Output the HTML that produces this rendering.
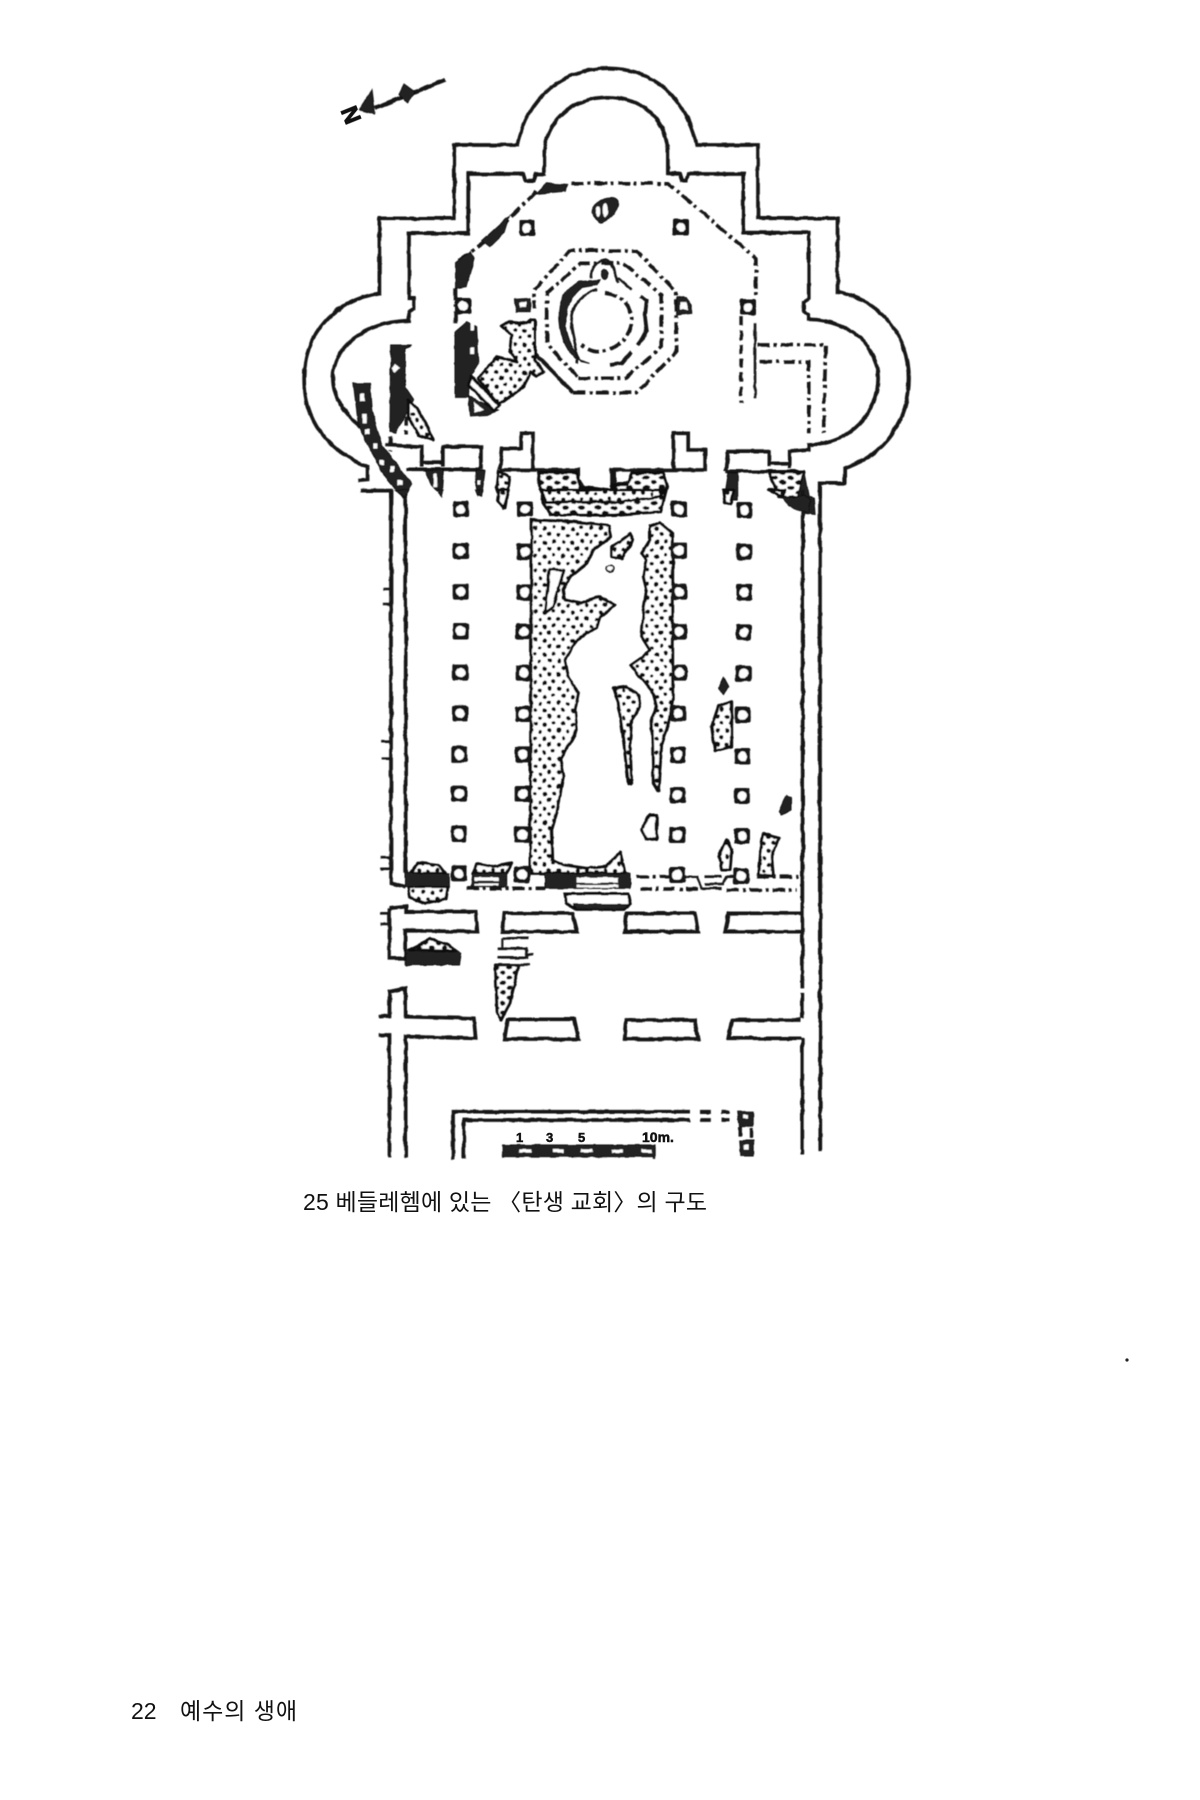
<!DOCTYPE html>
<html><head><meta charset="utf-8"><style>
html,body{margin:0;padding:0;background:#fff}
svg{display:block}
.w,.w *{fill:none;stroke:#131313;stroke-width:3.7;stroke-linejoin:miter;vector-effect:non-scaling-stroke}
.t,.t *{fill:none;stroke:#131313;stroke-width:2.6;vector-effect:non-scaling-stroke}
.dd,.dd *{fill:none;stroke:#131313;stroke-width:3.6;stroke-dasharray:12 4 3 4;vector-effect:non-scaling-stroke}
.ds,.ds *{fill:none;stroke:#131313;stroke-width:3.4;stroke-dasharray:9 5;vector-effect:non-scaling-stroke}
.k,.k *{fill:#232323;stroke:#111;stroke-width:1;vector-effect:non-scaling-stroke}
.s,.s *{stroke:#111;stroke-width:3;vector-effect:non-scaling-stroke;stroke-linejoin:round}
.wh,.wh *{fill:#fff;stroke:none}
.whb,.whb *{fill:#fff;stroke:#111;stroke-width:3;vector-effect:non-scaling-stroke}
text{font-family:"Liberation Sans","Noto Sans CJK KR",sans-serif;fill:#111}
</style></head><body>
<svg width="1200" height="1800" viewBox="0 0 1200 1800" xmlns="http://www.w3.org/2000/svg">
<defs>
<filter id="rough" filterUnits="userSpaceOnUse" x="280" y="50" width="660" height="1130">
  <feTurbulence type="fractalNoise" baseFrequency=".09" numOctaves="2" seed="4" result="n"/>
  <feDisplacementMap in="SourceGraphic" in2="n" scale="3" xChannelSelector="R" yChannelSelector="G"/>
  <feGaussianBlur stdDeviation=".45"/>
</filter>
<pattern id="d2" width="84" height="84" patternUnits="userSpaceOnUse"><rect width="84" height="84" fill="#fff"/><g fill="#111"><circle cx="9" cy="8" r="6.5"/><circle cx="36" cy="12" r="5.5"/><circle cx="64" cy="6" r="7"/><circle cx="22" cy="29" r="6.5"/><circle cx="50" cy="32" r="7"/><circle cx="76" cy="26" r="5.5"/><circle cx="8" cy="50" r="7"/><circle cx="36" cy="53" r="5.5"/><circle cx="64" cy="49" r="6.5"/><circle cx="22" cy="72" r="5.5"/><circle cx="50" cy="74" r="7"/><circle cx="77" cy="70" r="6.5"/></g></pattern>
<pattern id="d1" width="38" height="30" patternUnits="userSpaceOnUse"><rect width="38" height="30" fill="#fff"/><ellipse cx="10" cy="8" rx="8" ry="6.5" fill="#111"/><ellipse cx="29" cy="23" rx="8" ry="6.5" fill="#111"/></pattern>
<pattern id="d3" width="36" height="30" patternUnits="userSpaceOnUse"><rect width="36" height="30" fill="#fff"/><ellipse cx="9" cy="8" rx="8" ry="6.5" fill="#111"/><ellipse cx="27" cy="23" rx="8" ry="6.5" fill="#111"/></pattern>
<g id="c"><rect x="-8" y="-8" width="16" height="16" rx="2" fill="#151515"/><circle r="4.8" fill="#fff"/></g>
</defs>

<g filter="url(#rough)">
<!-- top part -->
<g transform="translate(280,50) scale(.423,.3333)">
  <path class="w" d="M185,1292 L207,1290 L207,1250 C110,1200 57,1110 57,985 C57,850 130,750 235,730 L235,505 L412,505 L412,285 L562,285 C585,140 670,55 775,55 C880,55 960,140 985,285 L1130,285 L1130,505 L1318,505 L1318,725 C1425,755 1487,860 1487,985 C1487,1110 1430,1215 1335,1255 L1335,1300 L1277,1300 L1277,1345"/>
  <path class="w" d="M190,1322 L262,1322 L262,1345"/>
  <path class="w" d="M190,1130 C150,1090 125,1040 125,985 C125,890 200,815 305,812 L305,785 L318,775 L318,745 L305,745 L305,550 L445,550 L445,372 L575,372 L580,392 L600,392 L605,372 L625,372 L625,300 C635,200 700,142 775,142 C850,142 910,200 917,300 L917,370 L945,372 L950,392 L960,392 L965,372 L1095,372 L1095,548 L1250,548 L1250,745 L1238,755 L1238,785 L1250,795 L1250,808 C1350,810 1414,890 1414,985 C1414,1090 1350,1180 1250,1185 L1250,1200 L1205,1205 L1205,1255"/>
  <path class="w" d="M250,1185 L335,1190 L335,1250 M385,1250 L385,1190 L475,1190 L475,1258 M300,1258 L475,1258 M335,1238 L385,1238"/>
  <path class="w" d="M520,1258 L525,1195 L570,1195 L570,1150 L598,1150 L598,1258 M520,1260 L705,1260 L705,1290 L725,1322 L785,1322 L785,1260 L1005,1260 L1005,1200 L965,1200 L965,1150 L930,1150 L930,1258 M790,1265 L790,1300 L820,1300"/>
  <path class="w" d="M1055,1262 L1060,1205 L1157,1205 L1157,1250 M1157,1240 L1205,1240 M1055,1264 L1236,1264 L1236,1345"/>

  <!-- dash-dot -->
  <path class="dd" d="M690,400 L918,400 L1125,625 L1125,740"/>
  <path class="dd" d="M605,425 L500,560 L415,640 M415,715 L415,830"/>
  <path class="dd" d="M1130,885 L1290,885 L1285,1150 M1135,935 L1250,935 L1250,1150"/>
  <path class="ds" d="M1090,800 L1090,1060"/>
  <path class="t" d="M1123,820 L1123,1045"/>

  <!-- black fragments -->
  <g class="k">
    <path d="M605,432 L630,400 L680,405 L672,424 Z"/>
    <path d="M478,572 L542,498 L530,548 L496,590 Z"/>
    <path d="M415,640 L450,605 L460,625 L440,710 L415,715 Z"/>
    <path d="M738,490 C735,450 790,430 798,455 C800,490 770,520 755,518 Z"/>
    <path d="M1060,1268 L1082,1268 L1082,1350 L1050,1350 Z"/>
  </g>
  <g class="wh"><ellipse cx="770" cy="480" rx="6" ry="22"/><ellipse cx="752" cy="485" rx="5" ry="16"/></g>
  <g class="s">
    <path fill="url(#d1)" d="M610,1268 L700,1268 L710,1310 L785,1322 L785,1304 L822,1304 L832,1268 L905,1268 L915,1310 L900,1385 L790,1395 L640,1395 L620,1350 Z"/>
    <path fill="url(#d1)" d="M1155,1265 L1240,1265 L1225,1345 L1180,1340 Z"/>
  </g>
  <g class="k"><path d="M1225,1340 L1240,1265 L1250,1340 L1262,1345 L1265,1395 L1240,1392 Z"/></g>
</g>

<!-- octagon at true 3x zoom -->
<g transform="translate(510,230) scale(.33333)">
  <path class="dd" d="M190,488 L380,488 L500,365 L497,185 L380,62 L180,62 L72,180 L72,235"/>
  <path class="w" d="M65,360 L190,488"/>
  <path class="dd" d="M205,445 L345,445 L455,350 L455,195 L340,100 L210,100 L110,190 L110,340 L205,445"/>
  <path class="k" d="M205,155 L270,150 L262,165 L215,172 C180,200 165,240 168,290 C172,330 190,360 215,395 L240,400 L195,385 C160,350 145,300 148,240 C150,200 175,175 205,155 Z"/>
  <path class="t" d="M262,180 C205,195 180,240 185,290 C190,330 205,365 200,400"/>
  <path class="dd" d="M285,188 C345,195 370,240 365,285 C355,330 310,365 265,365 C245,365 230,358 215,345"/>
  <path class="t" d="M245,145 C240,110 265,90 290,90 C305,95 315,130 325,160"/>
  <ellipse class="k" cx="283" cy="133" rx="10" ry="15"/>
  <path class="t" d="M325,145 L365,180"/>
  <path class="w" d="M390,200 L410,210 L405,260 L410,300 L400,320 L385,345"/>
  <path class="w" d="M300,405 L335,400 L365,365"/>
  <path class="k" d="M15,208 L60,205 L62,245 L18,245 Z M500,200 L530,205 L545,225 L545,250 L500,255 Z"/>
  <path fill="#fff" d="M28,218 h20 v14 h-20z M510,218 h18 l6,10 v12 h-24z"/>
</g>

<!-- left side fragments at true 3x zoom -->
<g transform="translate(340,320) scale(.33333)">
  <path class="k" d="M152,75 L215,75 L195,85 L195,200 L222,240 L200,280 L165,340 L150,335 Z"/>
  <path class="wh" d="M165,130 L180,145 L165,160 L155,145 Z"/>
  <path class="s" fill="url(#d2)" d="M205,240 L230,265 L262,320 L278,360 L235,345 L205,290 Z"/>
  <path class="ds" d="M200,290 L200,345 M150,350 L150,395"/>
  <path class="k" d="M40,190 L90,190 L95,270 L125,375 L215,490 L190,535 L135,470 L85,380 L55,310 Z"/>
  <path class="wh" d="M60,220 h14 v24 h-14z M68,280 h12 v30 h-12z M75,325 h12 v18 h-12z M100,370 h12 v14 h-12z M120,420 h12 v14 h-12z M150,440 h12 v18 h-12z M172,480 h16 v16 h-16z"/>
  <path class="k" d="M345,35 L380,5 L410,20 L415,130 L390,170 L385,232 L345,232 Z"/>
  <path class="wh" d="M392,8 h10 v22 h-10z M392,82 h12 v20 h-12z"/>
  <path class="k" d="M385,230 L475,270 L440,285 L390,288 Z"/>
  <path class="s" fill="url(#d2)" d="M485,20 L510,5 L560,10 L575,0 L585,0 L585,120 L610,155 L590,170 L570,155 L550,200 L490,245 L475,250 L415,175 L470,110 L530,125 L510,90 L515,45 Z"/>
  <path class="whb" d="M395,170 L478,255 L462,272 L385,195 Z"/>
  <path fill="#fff" d="M400,245 L432,268 L405,278 Z"/>
  <path class="k" d="M255,450 L310,450 L305,530 L270,490 Z M408,450 L435,450 L425,530 L410,525 Z"/>
  <path class="wh" d="M280,460 h10 v40 h-10z M414,480 h8 v14 h-8z"/>
  <path class="s" fill="url(#d2)" d="M475,452 L508,470 L495,565 L470,500 Z"/>
</g>

<!-- north arrow -->
<path class="w" d="M445,80 L375,108" style="stroke-width:4.2"/>
<path class="k" d="M359,110 L372,90 L375,114 Z M404,84 L415,92 L407,103 L399,94 Z"/>

<use href="#c" x="527" y="228"/><use href="#c" x="681" y="227"/><use href="#c" x="463" y="306"/><use href="#c" x="748" y="307"/>

<!-- middle part -->
<g transform="translate(360,490) scale(.33333)">
  <path class="w" d="M93,0 L93,1180 L135,1190 M137,0 L137,1150 M1328,0 L1328,1110 M1380,0 L1380,1140"/>
  <path class="t" d="M70,297 H93 M70,342 H93 M65,755 H90 M62,806 H90 M62,1103 H90 M62,1135 H90"/>
  <g class="k">
    <path d="M105,0 L145,0 L135,22 Z M228,0 L250,0 L245,20 Z M345,0 L360,0 L352,18 Z"/>
    <path d="M1270,20 L1300,25 L1335,15 L1352,30 L1345,68 L1320,62 L1285,50 Z"/>
  </g>
  <g class="s">
    <path fill="url(#d2)" d="M418,0 L445,0 L430,55 L414,35 Z"/>
    <path fill="url(#d2)" d="M1090,0 L1120,0 L1112,40 L1095,40 Z"/>
    <path fill="url(#d2)" d="M1225,0 L1275,0 L1270,20 Z"/>
    <path fill="url(#d2)" d="M540,0 L915,0 L900,20 L790,35 L560,36 Z"/>
    <path fill="url(#d2)" d="M515,90 L640,95 L745,108 L752,140 L700,180 L680,220 L630,260 L610,300 L615,330 L660,340 L720,320 L765,345 L720,380 L710,410 L650,450 L615,510 L625,560 L655,610 L645,660 L650,720 L600,810 L610,860 L590,970 L575,1020 L578,1110 L610,1125 L680,1135 L740,1130 L780,1085 L795,1150 L510,1150 Z"/>
    <path fill="#fff" d="M568,238 L612,240 L580,350 L555,368 Z"/>
    <path fill="url(#d2)" d="M870,110 L900,98 L938,130 L938,630 L925,700 L905,760 L895,905 L880,880 L878,760 L875,690 L890,650 L880,610 L840,560 L812,525 L855,495 L870,480 L845,440 L850,360 L860,300 L850,260 L860,210 L845,190 L870,150 Z"/>
    <path fill="url(#d2)" d="M760,595 L800,590 L835,615 L840,650 L815,690 L810,760 L815,882 L805,880 L790,745 L775,640 Z"/>
    <path fill="url(#d2)" d="M755,170 L810,130 L820,150 L785,205 L755,200 Z"/>
    <path fill="url(#d2)" d="M1055,710 L1075,650 L1115,635 L1115,770 L1065,782 Z"/>
    <path fill="#fff" d="M842,1020 L870,975 L890,975 L890,1050 L860,1045 Z"/>
    <path fill="url(#d2)" d="M1100,1048 L1115,1080 L1110,1140 L1085,1140 L1078,1100 Z"/>
    <path fill="url(#d2)" d="M1210,1030 L1255,1045 L1235,1100 L1240,1160 L1195,1155 L1200,1090 Z"/>
    <path fill="url(#d2)" d="M150,1150 L175,1118 L235,1125 L255,1150 Z"/>
    <path fill="url(#d2)" d="M145,1190 L265,1190 L260,1225 L195,1240 L150,1222 Z"/>
    <path fill="url(#d2)" d="M340,1150 L350,1120 L400,1130 L455,1120 L440,1150 Z"/>
  </g>
  <circle cx="750" cy="236" r="10" fill="#fff" stroke="#111" stroke-width="5"/>
  <path class="k" d="M1090,562 L1105,590 L1092,612 L1076,595 Z"/>
  <path class="k" d="M1280,915 L1293,920 L1293,960 L1265,975 L1258,965 Z"/>
  <path class="k" d="M135,1150 H268 V1190 H135 Z"/>
  <path class="k" d="M340,1150 H440 V1190 H335 Z"/>
  <path class="wh" d="M345,1162 H415 V1172 H345 Z M345,1180 H415 V1187 H345 Z"/>
  <path class="k" d="M555,1150 H810 V1195 H555 Z"/>
  <path class="wh" d="M650,1162 H775 V1178 H650 Z M650,1184 H775 V1192 H650 Z"/>
  <path class="whb" d="M615,1212 H805 L812,1240 L790,1258 H650 L620,1240 Z"/>
  <path class="k" d="M640,1242 H805 L790,1258 H650 Z"/>
  <path class="dd" d="M830,1160 H980 M320,1195 H555 M840,1197 H1020 M1100,1200 H1310 M1190,1160 H1315"/>
  <path class="t" d="M980,1160 L1010,1160 L1025,1195 L1085,1195 M1035,1160 H1085 M1035,1182 H1090 L1100,1160 H1140"/>
  <g>
    <use href="#c" transform="translate(302,57) scale(3)"/><use href="#c" transform="translate(302,183) scale(3)"/><use href="#c" transform="translate(302,305) scale(3)"/><use href="#c" transform="translate(302,423) scale(3)"/><use href="#c" transform="translate(301,548) scale(3)"/><use href="#c" transform="translate(300,670) scale(3)"/><use href="#c" transform="translate(298,793) scale(3)"/><use href="#c" transform="translate(297,911) scale(3)"/><use href="#c" transform="translate(296,1032) scale(3)"/><use href="#c" transform="translate(297,1150) scale(3)"/>
    <use href="#c" transform="translate(495,57) scale(3)"/><use href="#c" transform="translate(494,185) scale(3)"/><use href="#c" transform="translate(493,307) scale(3)"/><use href="#c" transform="translate(492,425) scale(3)"/><use href="#c" transform="translate(491,548) scale(3)"/><use href="#c" transform="translate(490,672) scale(3)"/><use href="#c" transform="translate(489,793) scale(3)"/><use href="#c" transform="translate(488,912) scale(3)"/><use href="#c" transform="translate(487,1033) scale(3)"/><use href="#c" transform="translate(486,1153) scale(3)"/>
    <use href="#c" transform="translate(957,57) scale(3)"/><use href="#c" transform="translate(957,182) scale(3)"/><use href="#c" transform="translate(957,305) scale(3)"/><use href="#c" transform="translate(957,425) scale(3)"/><use href="#c" transform="translate(957,548) scale(3)"/><use href="#c" transform="translate(955,670) scale(3)"/><use href="#c" transform="translate(954,795) scale(3)"/><use href="#c" transform="translate(953,915) scale(3)"/><use href="#c" transform="translate(952,1035) scale(3)"/><use href="#c" transform="translate(952,1155) scale(3)"/>
    <use href="#c" transform="translate(1153,60) scale(3)"/><use href="#c" transform="translate(1153,185) scale(3)"/><use href="#c" transform="translate(1152,307) scale(3)"/><use href="#c" transform="translate(1152,427) scale(3)"/><use href="#c" transform="translate(1150,550) scale(3)"/><use href="#c" transform="translate(1148,675) scale(3)"/><use href="#c" transform="translate(1147,798) scale(3)"/><use href="#c" transform="translate(1147,918) scale(3)"/><use href="#c" transform="translate(1146,1038) scale(3)"/><use href="#c" transform="translate(1144,1158) scale(3)"/>
  </g>
</g>

<!-- lower part -->
<g transform="translate(280,850) scale(.359,.33333)">
  <path class="w" d="M1455,0 L1455,415 M1455,430 L1455,505 M1455,565 L1455,915 M1505,0 L1505,905"/>
  <path class="w" d="M305,175 L350,170 L350,185 L545,185 L550,245 L350,242 L350,325 L305,325 L305,175"/>
  <path class="t" d="M280,190 H305 M280,222 H305"/>
  <path class="w" d="M625,190 H815 L828,245 H620 Z M965,190 H1155 L1165,245 H960 Z M1450,190 H1250 L1240,245 H1450"/>
  <path class="k" d="M350,345 H500 L505,310 L470,285 L350,300 Z"/>
  <path class="s" fill="url(#d3)" d="M360,300 L420,268 L470,285 L490,302 Z"/>
  <path class="s" fill="url(#d3)" d="M600,345 L665,345 L640,460 L615,510 L605,490 Z"/>
  <path class="t" d="M620,265 H692 M620,265 V295 M605,295 H685 V315 L705,312 M605,322 H690 M600,345 H695"/>
  <path class="w" d="M275,500 L305,498 L305,425 L350,415 L350,500 L540,505 L545,565 L350,560 L350,922 M275,555 L305,555 L305,922"/>
  <path class="w" d="M635,508 H820 L832,567 H625 Z M965,510 H1155 L1165,567 H960 Z M1450,510 H1260 L1250,565 H1450"/>
  <path class="w" d="M482,928 V785 H1142 M512,928 V810 H1142 M1170,785 H1200 M1230,785 H1252 M1170,810 H1200 M1230,810 H1252"/>
  <path class="k" d="M1275,785 H1318 V830 H1280 Z M1282,870 H1318 V918 H1285 Z"/>
  <path class="ds" d="M1312,835 V870 M1282,830 V870"/>
  <path fill="#fff" d="M1290,795 h12 v11 h-12z M1292,885 h12 v14 h-12z"/>
  <path class="k" d="M620,885 H1045 V925 H1040 V920 H620 Z"/>
  <path class="wh" d="M665,898 H700 V908 H665 Z M760,898 H790 V908 H760 Z M840,898 H870 V908 H840 Z M925,898 H955 V908 H925 Z M1008,898 H1035 V908 H1008 Z"/>
</g>
</g>

<text transform="translate(351,115) rotate(-112)" y="8" font-size="23" font-weight="700" text-anchor="middle" stroke="#111" stroke-width="1">N</text>
<g font-size="13" font-weight="700" stroke="#111" stroke-width=".5">
  <text x="516" y="1142">1</text><text x="546" y="1142">3</text><text x="578" y="1142">5</text><text x="642" y="1142" font-size="14">10m.</text>
</g>

<text x="303" y="1210" font-size="23" textLength="404" lengthAdjust="spacing">25 베들레헴에 있는 〈탄생 교회〉의 구도</text>
<text x="131" y="1719" font-size="23">22</text>
<text x="180" y="1719" font-size="23" textLength="117" lengthAdjust="spacing">예수의 생애</text>
<circle cx="1127" cy="1360" r="1.6" fill="#222"/>
</svg>
</body></html>
